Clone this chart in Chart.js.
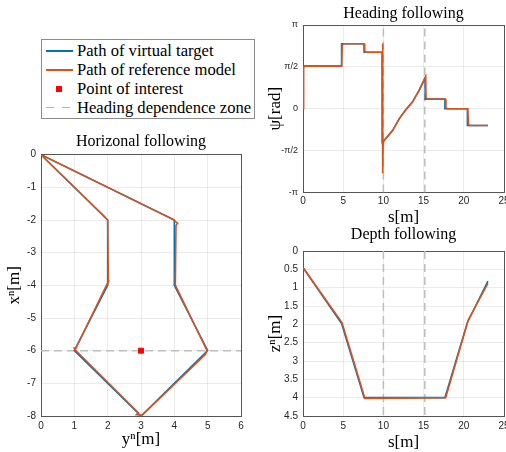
<!DOCTYPE html>
<html>
<head>
<meta charset="utf-8">
<script src="https://cdn.jsdelivr.net/npm/chart.js@4.4.0/dist/chart.umd.min.js"></script>
<style>
  html, body { margin: 0; padding: 0; background: #fff; overflow: hidden; }
  body { width: 506px; height: 452px; position: relative; }
  canvas { position: absolute; }
  #legend { position: absolute; left: 41px; top: 39px; width: 212px; height: 78px; border: 1px solid #8c8c8c;
            background: #fff; font-family: 'Liberation Serif', serif; font-size: 16.6px; color: #000; }
  .row { position: absolute; left: 0; width: 212px; height: 19px; }
  .txt { position: absolute; left: 35px; top: 0; line-height: 19px; white-space: nowrap; }
  .ln { position: absolute; left: 4px; width: 27px; top: 9px; height: 0; border-top: 2px solid; }
  .dash { position: absolute; top: 9px; width: 8px; height: 0; border-top: 1.5px solid #b8b8b8; }
  .sq { position: absolute; left: 14px; top: 7px; width: 6px; height: 6px; background: #ff0000; }
</style>
</head>
<body>
<div id="legend">
  <div class="row" style="top:0.5px"><div class="ln" style="border-color:#0072BD"></div><span class="txt">Path of virtual target</span></div>
  <div class="row" style="top:19.5px"><div class="ln" style="border-color:#D95319"></div><span class="txt">Path of reference model</span></div>
  <div class="row" style="top:38.5px"><div class="sq"></div><span class="txt">Point of interest</span></div>
  <div class="row" style="top:57.5px"><div class="dash" style="left:4px"></div><div class="dash" style="left:20px"></div><span class="txt">Heading dependence zone</span></div>
</div>
<canvas id="cHor" width="282" height="322" style="left:0px;top:130px"></canvas>
<canvas id="cHead" width="287" height="232" style="left:260px;top:0px"></canvas>
<canvas id="cDepth" width="287" height="227" style="left:260px;top:225px"></canvas>
<script>
// horizontal plane: y^n on the x axis, x^n on the y axis
const targetYn = [0, 4, 4, 5, 3, 1, 2, 2, 0];
const targetXn = [0, -2, -4, -6, -8, -6, -4, -2, 0];
const refYn = [0, 3.96, 4.1, 4.05, 4.03, 4.07, 4.98, 4.93, 3.03, 2.86, 2.92, 1.03, 0.98, 1.02, 1.98, 2.04, 2.02, 2.0, 1.86, 1.93, 0];
const refXn = [0, -1.98, -2.1, -2.16, -3.98, -4.08, -6.0, -6.12, -7.98, -7.96, -7.9, -5.98, -5.9, -5.98, -3.96, -3.84, -3.9, -2.0, -1.86, -1.92, 0];
const poiYn = [3];
const poiXn = [-6];
const zoneXn = -6;

// heading vs path length
const targetS = [0, 4.8, 4.8, 7.6, 7.6, 9.85, 9.85, 10.1, 11.14, 11.96, 12.79, 13.61, 14.44, 15.2, 15.2, 17.65, 17.65, 20.45, 20.45, 23];
const targetPsi = [1.6, 1.6, 2.44, 2.44, 2.12, 2.12, -1.25, -1.19, -0.82, -0.38, -0.04, 0.25, 0.69, 1.17, 0.36, 0.36, 0, 0, -0.63, -0.63];
const refS = [0, 0.08, 0.25, 4.8, 4.88, 5.05, 7.6, 7.68, 7.85, 9.85, 9.9, 9.93, 9.96, 10.0, 10.1, 11.14, 11.96, 12.79, 13.61, 14.44, 15.26, 15.3, 15.45, 17.7, 17.78, 17.95, 20.5, 20.58, 20.75, 23];
const refPsi = [0, 1.55, 1.6, 1.6, 2.38, 2.44, 2.44, 2.17, 2.12, 2.12, 2.45, -2.42, -1.35, -1.25, -1.19, -0.82, -0.38, -0.04, 0.25, 0.69, 1.2, 0.42, 0.36, 0.36, 0.05, 0, 0, -0.58, -0.63, -0.63];
const psiTicks = [-Math.PI, -Math.PI / 2, 0, Math.PI / 2, Math.PI];
const psiTickLabels = ['-π', '-π/2', '0', 'π/2', 'π'];

// depth vs path length
const targetDs = [0, 4.8, 7.6, 17.65, 20.45, 23];
const targetZ = [0.45, 1.98, 4.0, 4.0, 1.95, 0.82];
const refDs = [0, 4.85, 7.7, 17.75, 20.55, 23];
const refZ = [0.45, 1.95, 4.02, 4.0, 1.88, 0.88];

const zoneS = [10, 15.15];

const blue = '#0072BD';
const orange = '#D95319';
const zoneGray = '#bdbdbd';
const gridColor = 'rgba(0,0,0,0.08)';
const boxColor = '#555555';
const sans = "'Liberation Sans', Arial, sans-serif";
const serif = "'Liberation Serif', 'Times New Roman', serif";

function pts(xs, ys) {
  return xs.map((x, i) => ({x: x, y: ys[i]}));
}

function lineSet(label, xs, ys, color, order) {
  return {label: label, data: pts(xs, ys), showLine: true, borderColor: color, backgroundColor: color,
          borderWidth: 1.6, pointRadius: 0, order: order};
}

function zoneSet(xs, ys) {
  return {label: 'Heading dependence zone', data: pts(xs, ys), showLine: true, borderColor: zoneGray,
          borderWidth: 1.5, borderDash: [8, 5], pointRadius: 0, order: 3};
}

function axes(c) {
  const tickFont = {family: sans, size: c.tickSize || 10};
  const edge = {display: true, drawOnChartArea: false, drawTicks: false};
  return {
    x: {type: 'linear', min: c.xMin, max: c.xMax,
        ticks: {stepSize: c.xStep, padding: c.xTickPad, font: {family: sans, size: 10}, color: '#262626', maxRotation: 0},
        grid: {color: gridColor, drawTicks: false},
        border: {display: true, color: boxColor},
        title: {display: true, text: c.xTitle, color: '#000', font: {family: serif, size: 17, lineHeight: 1},
                padding: {top: 0, bottom: c.xTitlePad}},
        afterFit: s => { s.height = c.xh; }},
    x2: {type: 'linear', position: 'top', ticks: {display: false}, grid: edge,
         border: {display: true, color: boxColor}, afterFit: s => { s.height = 0; }},
    y: {type: 'linear', min: c.yMin, max: c.yMax, reverse: !!c.reverse,
        ticks: {stepSize: c.yStep, padding: 5, font: tickFont, color: '#262626', callback: c.yFormat},
        afterBuildTicks: c.yTicks ? s => { s.ticks = c.yTicks.map(v => ({value: v})); } : undefined,
        grid: {color: gridColor, drawTicks: false},
        border: {display: true, color: boxColor},
        title: {display: true, text: c.yTitle, color: '#000', font: {family: serif, size: 17, lineHeight: 1},
                padding: {top: c.yTitlePad, bottom: 0}},
        afterFit: s => { s.width = c.yw; }},
    y2: {type: 'linear', position: 'right', ticks: {display: false}, grid: edge,
         border: {display: true, color: boxColor}, afterFit: s => { s.width = c.yw; }}
  };
}

function titleOpts(text, top, bottom) {
  return {display: true, text: text, color: '#000', font: {family: serif, size: 16, weight: 'normal', lineHeight: 1.2},
          padding: {top: top, bottom: bottom}};
}

const common = {responsive: false, animation: false, events: []};

new Chart(document.getElementById('cHor'), {
  type: 'scatter',
  data: {
    datasets: [
      {label: 'Point of interest', data: pts(poiYn, poiXn), pointStyle: 'rect', pointRadius: 3.5,
       backgroundColor: '#ff0000', borderColor: '#ff0000', order: 0},
      lineSet('Path of reference model', refYn, refXn, orange, 1),
      lineSet('Path of virtual target', targetYn, targetXn, blue, 2),
      zoneSet([0, 6], [zoneXn, zoneXn])
    ]
  },
  options: Object.assign({}, common, {
    plugins: {legend: {display: false}, tooltip: {enabled: false},
              title: titleOpts('Horizonal following', 2.5, 3)},
    scales: axes({xMin: 0, xMax: 6, xStep: 1, yMin: -8, yMax: 0, yStep: 1,
                  xTitle: 'yⁿ[m]', yTitle: 'xⁿ[m]', yw: 41, xh: 36, xTickPad: 4.7, xTitlePad: 3.5, yTitlePad: 6.5})
  })
});

new Chart(document.getElementById('cHead'), {
  type: 'scatter',
  data: {
    datasets: [
      lineSet('Path of reference model', refS, refPsi, orange, 1),
      lineSet('Path of virtual target', targetS, targetPsi, blue, 2),
      zoneSet([zoneS[0], zoneS[0]], [-Math.PI, Math.PI]),
      zoneSet([zoneS[1], zoneS[1]], [-Math.PI, Math.PI])
    ]
  },
  options: Object.assign({}, common, {
    plugins: {legend: {display: false}, tooltip: {enabled: false},
              title: titleOpts('Heading following', 4, 1.8)},
    scales: axes({xMin: 0, xMax: 25, xStep: 5, yMin: -Math.PI, yMax: Math.PI, yTicks: psiTicks, tickSize: 9,
                  yFormat: (v, i) => psiTickLabels[i],
                  xTitle: 's[m]', yTitle: 'ψ[rad]', yw: 43, xh: 39.5, xTickPad: 2.5, xTitlePad: 5.8, yTitlePad: 7.5})
  })
});

new Chart(document.getElementById('cDepth'), {
  type: 'scatter',
  data: {
    datasets: [
      lineSet('Path of reference model', refDs, refZ, orange, 1),
      lineSet('Path of virtual target', targetDs, targetZ, blue, 2),
      zoneSet([zoneS[0], zoneS[0]], [0, 4.5]),
      zoneSet([zoneS[1], zoneS[1]], [0, 4.5])
    ]
  },
  options: Object.assign({}, common, {
    plugins: {legend: {display: false}, tooltip: {enabled: false},
              title: titleOpts('Depth following', 0.5, 6.3)},
    scales: axes({xMin: 0, xMax: 25, xStep: 5, yMin: 0, yMax: 4.5, yStep: 0.5, reverse: true,
                  yFormat: v => String(Math.round(v * 10) / 10),
                  xTitle: 's[m]', yTitle: 'zⁿ[m]', yw: 43, xh: 36, xTickPad: 4, xTitlePad: 0.5, yTitlePad: 7.5})
  })
});
</script>
</body>
</html>
